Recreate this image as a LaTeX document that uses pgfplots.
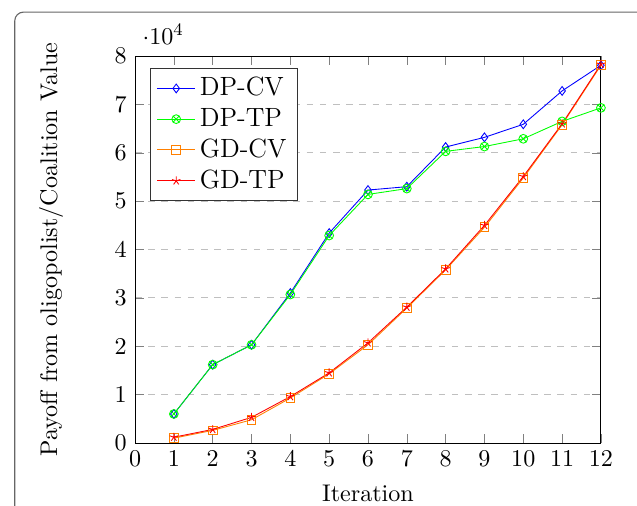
\documentclass[border=0pt,11pt]{standalone}
\usepackage{pgfplots}
\pgfplotsset{compat=1.18}
\begin{document}
\begin{tikzpicture}
\useasboundingbox (-61.4pt,-28.2pt) rectangle (228.2pt,201.4pt);
\begin{scope}
\clip (-61.4pt,-28.2pt) rectangle (228.2pt,201.4pt);
\draw[black!60, rounded corners=4pt, line width=0.5pt] (-54.7pt,-60pt) rectangle (260pt,195.9pt);
\end{scope}
\begin{axis}[
  at={(0,0)}, anchor=south west,
  scale only axis,
  width=211.8pt, height=175.9pt,
  xmin=0, xmax=12, ymin=0, ymax=80000,
  xtick={0,...,12},
  ytick={0,10000,...,80000},
  ymajorgrids, major grid style={dashed, black!25},
  xlabel={Iteration},
  ylabel={Payoff from oligopolist/Coalition Value},
  every axis y label/.style={at={(axis description cs:-0.18,0.5)}, rotate=90, anchor=center},
  every axis x label/.style={at={(axis description cs:0.5,-0.152)}, anchor=base},
  legend style={at={(axis description cs:0.032,0.969)}, anchor=north west, draw=black!80, font=\large},
  legend cell align=left,
]
\addplot[blue, mark=diamond, mark options={solid}] coordinates {
(1,6000) (2,16200) (3,20300) (4,31000) (5,43400) (6,52300) (7,53000) (8,61200) (9,63200) (10,65900) (11,72800) (12,78100)};
\addlegendentry{DP-CV}
\addplot[green, mark=otimes] coordinates {
(1,6000) (2,16200) (3,20300) (4,30700) (5,42900) (6,51400) (7,52600) (8,60300) (9,61300) (10,62900) (11,66500) (12,69300)};
\addlegendentry{DP-TP}
\addplot[orange, mark=square] coordinates {
(1,1000) (2,2600) (3,4800) (4,9300) (5,14300) (6,20300) (7,27900) (8,35800) (9,44600) (10,54800) (11,65800) (12,78100)};
\addlegendentry{GD-CV}
\addplot[red, mark=star] coordinates {
(1,1200) (2,2800) (3,5300) (4,9600) (5,14500) (6,20700) (7,28100) (8,36000) (9,45000) (10,55100) (11,66000) (12,78300)};
\addlegendentry{GD-TP}
\end{axis}
\end{tikzpicture}
\end{document}
